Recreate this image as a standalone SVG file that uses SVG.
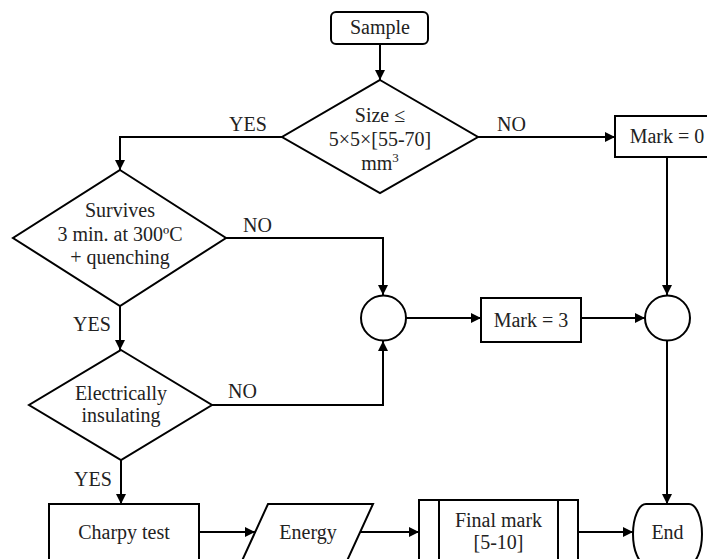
<svg xmlns="http://www.w3.org/2000/svg" width="707" height="559" viewBox="0 0 707 559">
<defs>
<marker id="arr" viewBox="0 0 10 10" refX="10" refY="5" markerWidth="10" markerHeight="10" markerUnits="userSpaceOnUse" orient="auto">
<path d="M0,0 L10,5 L0,10 Z" fill="#000"/>
</marker>
</defs>
<style>
.s{fill:#fff;stroke:#000;stroke-width:2}
.t{font-family:"Liberation Serif","Times New Roman",serif;font-size:20px;fill:#222;text-anchor:middle}
.l{font-family:"Liberation Serif","Times New Roman",serif;font-size:20px;fill:#222}
.c{fill:none;stroke:#000;stroke-width:2}
</style>
<rect width="707" height="559" fill="#fff"/>
<g id="connectors">
<path class="c" d="M380,44 V80" marker-end="url(#arr)"/>
<path class="c" d="M282,137 H120 V170" marker-end="url(#arr)"/>
<path class="c" d="M478,137 H615" marker-end="url(#arr)"/>
<path class="c" d="M667,157 V295" marker-end="url(#arr)"/>
<path class="c" d="M226,238 H383 V295" marker-end="url(#arr)"/>
<path class="c" d="M120,306 V350" marker-end="url(#arr)"/>
<path class="c" d="M212,405 H383 V341" marker-end="url(#arr)"/>
<path class="c" d="M406,318 H481" marker-end="url(#arr)"/>
<path class="c" d="M581,318 H645" marker-end="url(#arr)"/>
<path class="c" d="M667,341 V504" marker-end="url(#arr)"/>
<path class="c" d="M121,460 V504" marker-end="url(#arr)"/>
<path class="c" d="M199,532 H255" marker-end="url(#arr)"/>
<path class="c" d="M360,532 H419" marker-end="url(#arr)"/>
<path class="c" d="M578,532 H633" marker-end="url(#arr)"/>
<text class="l" x="229" y="131">YES</text>
<text class="l" x="497" y="131">NO</text>
<text class="l" x="243" y="232">NO</text>
<text class="l" x="73" y="331">YES</text>
<text class="l" x="228" y="398">NO</text>
<text class="l" x="74" y="486">YES</text>
</g>
<g id="sample">
<rect class="s" x="331" y="12" width="97" height="32" rx="5"/>
<text class="t" x="380" y="34">Sample</text>
</g>
<g id="size">
<polygon class="s" points="380,80 478,137 380,193 282,137"/>
<text class="t" x="380" y="122">Size ≤</text>
<text class="t" x="380" y="146">5×5×[55-70]</text>
<text class="t" x="380" y="170">mm<tspan font-size="13" dy="-8">3</tspan></text>
</g>
<g id="mark0">
<rect class="s" x="615" y="116" width="105" height="41"/>
<text class="t" x="667" y="143">Mark = 0</text>
</g>
<g id="survives">
<polygon class="s" points="120,170 226,238 120,306 13,238"/>
<text class="t" x="120" y="217">Survives</text>
<text class="t" x="120" y="241">3 min. at 300ºC</text>
<text class="t" x="120" y="264">+ quenching</text>
</g>
<g id="join1">
<circle class="s" cx="383.5" cy="318" r="22.5"/>
</g>
<g id="mark3">
<rect class="s" x="481" y="298" width="100" height="44"/>
<text class="t" x="531" y="327">Mark = 3</text>
</g>
<g id="join2">
<circle class="s" cx="667.5" cy="318" r="22.5"/>
</g>
<g id="insulating">
<polygon class="s" points="121,350 212,405 121,460 29,405"/>
<text class="t" x="121" y="400">Electrically</text>
<text class="t" x="121" y="422">insulating</text>
</g>
<g id="charpy">
<rect class="s" x="49" y="504" width="150" height="60"/>
<text class="t" x="124" y="539">Charpy test</text>
</g>
<g id="energy">
<polygon class="s" points="268,504 373,504 346,563 241,563"/>
<text class="t" x="308" y="539">Energy</text>
</g>
<g id="final">
<rect class="s" x="419" y="500" width="159" height="64"/>
<path class="c" d="M439,500 V564 M558,500 V564"/>
<text class="t" x="498.5" y="527">Final mark</text>
<text class="t" x="498.5" y="549">[5-10]</text>
</g>
<g id="end">
<path class="s" d="M646,504 H689 A13,30 0 0 1 689,564 H646 A13,30 0 0 1 646,504 Z"/>
<text class="t" x="667.5" y="539">End</text>
</g>
</svg>
